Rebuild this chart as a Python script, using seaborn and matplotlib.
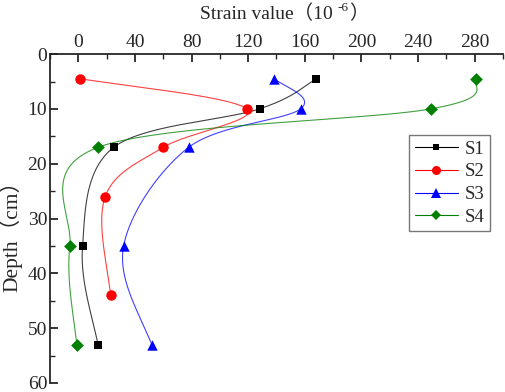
import numpy as np
import pandas as pd
import matplotlib
matplotlib.use("Agg")
import matplotlib.pyplot as plt
import seaborn as sns
from matplotlib.lines import Line2D

# values (strain in 1e-6, depth in cm)
depth_s1 = [4.5, 10, 17, 35, 53]
strain_s1 = [168, 128, 25, 3, 14]
depth_s2 = [4.5, 10, 17, 26, 44]
strain_s2 = [1, 119, 60, 19, 23]
depth_s3 = [4.5, 10, 17, 35, 53]
strain_s3 = [138, 157, 78, 32, 52]
depth_s4 = [4.5, 10, 17, 35, 53]
strain_s4 = [281, 249, 14, -6, -1]

series = ["S1", "S2", "S3", "S4"]
colors = {"S1": "#000000", "S2": "#ff0000", "S3": "#0000ff", "S4": "#008000"}
markers = {"S1": "s", "S2": "o", "S3": "^", "S4": "D"}
msizes = {"S1": 6, "S2": 7.5, "S3": 7.5, "S4": 6.5}

df = pd.concat([
    pd.DataFrame({"strain": strain_s1, "depth": depth_s1, "series": "S1"}),
    pd.DataFrame({"strain": strain_s2, "depth": depth_s2, "series": "S2"}),
    pd.DataFrame({"strain": strain_s3, "depth": depth_s3, "series": "S3"}),
    pd.DataFrame({"strain": strain_s4, "depth": depth_s4, "series": "S4"}),
], ignore_index=True)


def smooth(sub, steps=60):
    # Catmull-Rom style curve through the points
    P = sub[["strain", "depth"]].to_numpy(float)
    n = len(P)
    T = np.zeros_like(P)
    T[1:-1] = (P[2:] - P[:-2]) / 2
    T[0] = 1.25 * (P[1] - P[0]) - 0.25 * T[1]
    T[-1] = 1.25 * (P[-1] - P[-2]) - 0.25 * T[-2]
    s = np.linspace(0, 1, steps)[:, None]
    h00 = 2 * s**3 - 3 * s**2 + 1
    h10 = s**3 - 2 * s**2 + s
    h01 = -2 * s**3 + 3 * s**2
    h11 = s**3 - s**2
    pts = [h00 * P[i] + h10 * T[i] + h01 * P[i + 1] + h11 * T[i + 1] for i in range(n - 1)]
    pts = np.vstack(pts)
    return pd.DataFrame({"strain": pts[:, 0], "depth": pts[:, 1]})


sns.set_style("ticks")
plt.rcParams["font.family"] = ["Liberation Serif", "Noto Sans CJK SC"]

fig = plt.figure(figsize=(5.05, 3.92), dpi=100)
ax = fig.add_axes([0.099, 0.0230, 0.897, 0.839])

for s in series:
    sub = df[df["series"] == s]
    curve = smooth(sub)
    sns.lineplot(data=curve, x="strain", y="depth", sort=False, estimator=None,
                 color=colors[s], lw=0.8, alpha=0.75, ax=ax)
    sns.scatterplot(data=sub, x="strain", y="depth", marker=markers[s],
                    color=colors[s], s=msizes[s] ** 2, linewidth=0, zorder=3, ax=ax)

ax.set_xlim(-20, 300)
ax.set_ylim(60, 0)
ax.set_xticks(np.arange(0, 281, 40))
ax.set_xticks(np.arange(-20, 301, 20), minor=True)
ax.set_yticks(np.arange(0, 61, 10))
ax.set_yticks(np.arange(0, 61, 5), minor=True)
ax.xaxis.tick_top()
ax.set_xlabel("")
ax.set_ylabel("")
for side in ["right", "bottom"]:
    ax.spines[side].set_visible(False)
for side in ["left", "top"]:
    ax.spines[side].set_linewidth(1.3)
ax.tick_params(which="major", direction="in", length=6, width=1.3, labelsize=14, pad=2)
ax.tick_params(which="minor", direction="in", length=3.5, width=1.0)
ax.tick_params(axis="x", which="both", top=True, bottom=False, labeltop=True, labelbottom=False)

handles = [Line2D([], [], color=colors[s], lw=0.8, marker=markers[s], markersize=msizes[s] - 1,
                  markeredgewidth=0) for s in series]
leg = ax.legend(handles, series, loc="upper left", bbox_to_anchor=(0.7925, 0.7545),
                fontsize=13.5, frameon=True, fancybox=False, handlelength=2.3,
                borderpad=0.3, labelspacing=0.3, handletextpad=0.35, borderaxespad=0)
leg.get_frame().set_edgecolor("#555555")
leg.get_frame().set_linewidth(1.0)

# top axis title with superscript
fig.canvas.draw()
r = fig.canvas.get_renderer()
t1 = fig.text(200 / 505, 1 - 14 / 392, "Strain value（10 ", fontsize=14, va="center", ha="left")
bb = t1.get_window_extent(r)
t2 = fig.text(bb.x1 / fig.bbox.width, 1 - 8 / 392, "-6", fontsize=9.5, va="center", ha="left")
bb2 = t2.get_window_extent(r)
fig.text(bb2.x1 / fig.bbox.width, 1 - 14 / 392, "）", fontsize=14, va="center", ha="left")

fig.text(11 / 505, 1 - 231 / 392, "Depth（cm）", fontsize=15.5, rotation=90, va="center", ha="center")

fig.savefig("out.png", dpi=100)
